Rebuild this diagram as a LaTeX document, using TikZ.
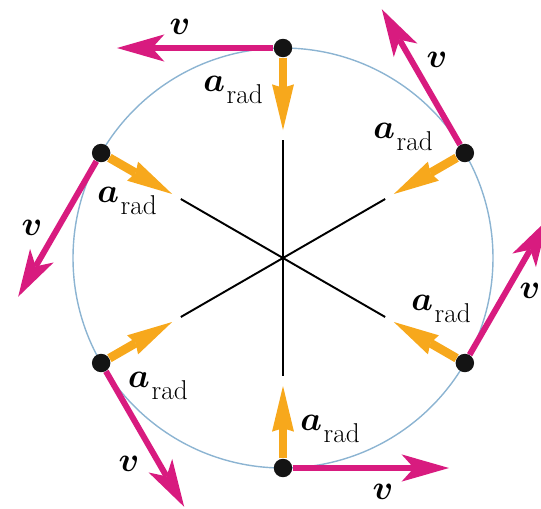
\RequirePackage{fix-cm}
\documentclass[tikz,border=0pt]{standalone}
\usepackage{amsmath,amssymb}
\usepackage{xcolor}
\usepackage{tikz}
\usetikzlibrary{arrows.meta,calc}
\definecolor{velmagenta}{HTML}{D81B7F}
\definecolor{accorange}{HTML}{F7A81C}
\definecolor{trackblue}{HTML}{8CB4D2}
\newcommand{\arad}{$\boldsymbol{a}$\kern1pt\raisebox{-7pt}{\fontsize{15.5}{17}\selectfont rad}}

\begin{document}
\begin{tikzpicture}[
  x=0.02cm,y=0.02cm,
  particle/.style={circle,fill=black!92,minimum size=10.5pt,inner sep=0pt},
  vel/.style={draw=velmagenta,line width=3.4pt,-{Stealth[length=27pt,width=15.5pt,inset=7pt,line width=0pt]}},
  acc/.style={draw=accorange,line width=5pt,-{Stealth[length=26pt,width=12.5pt,inset=2pt,line width=0pt]}},
  spoke/.style={draw=black,line width=1.1pt},
  track/.style={draw=trackblue,line width=0.8pt},
  lab/.style={inner sep=0pt,font=\fontsize{19.5}{22}\selectfont}
]
\clip (-283,-250) rectangle (258,258);
\coordinate (o) at (0,0);
\draw[track] (o) circle (210);

\coordinate (s90) at (90:118);
\coordinate (s150) at (150:118);
\coordinate (s210) at (210:118);
\coordinate (s270) at (270:118);
\coordinate (s330) at (330:118);
\coordinate (s30) at (30:118);
\draw[spoke] (s90)--(s270);
\draw[spoke] (s150)--(s330);
\draw[spoke] (s210)--(s30);

\node[particle] (m90) at (90:210) {};
\node[particle] (m150) at (150:210) {};
\node[particle] (m210) at (210:210) {};
\node[particle] (m270) at (270:210) {};
\node[particle] (m330) at (330:210) {};
\node[particle] (m30) at (30:210) {};

\coordinate (a90) at (90:128);
\coordinate (a150) at (150:128);
\coordinate (a210) at (210:128);
\coordinate (a270) at (270:128);
\coordinate (a330) at (330:128);
\coordinate (a30) at (30:128);
\draw[acc] (m90)--(a90);
\draw[acc] (m150)--(a150);
\draw[acc] (m210)--(a210);
\draw[acc] (m270)--(a270);
\draw[acc] (m330)--(a330);
\draw[acc] (m30)--(a30);

\coordinate (v90) at ($(m90)+(180:166)$);
\coordinate (v150) at ($(m150)+(240:166)$);
\coordinate (v210) at ($(m210)+(300:166)$);
\coordinate (v270) at ($(m270)+(0:166)$);
\coordinate (v330) at ($(m330)+(60:166)$);
\coordinate (v30) at ($(m30)+(120:166)$);
\draw[vel] (m90)--(v90);
\draw[vel] (m150)--(v150);
\draw[vel] (m210)--(v210);
\draw[vel] (m270)--(v270);
\draw[vel] (m330)--(v330);
\draw[vel] (m30)--(v30);

\node[lab] (la90) at (-50,168) {\arad};
\node[lab] (la150) at (-156,57) {\arad};
\node[lab] (la210) at (-125,-128) {\arad};
\node[lab] (la270) at (47,-171) {\arad};
\node[lab] (la330) at (158,-51) {\arad};
\node[lab] (la30) at (120,121) {\arad};

\node[lab] (lv90) at (-103,231) {$\boldsymbol{v}$};
\node[lab] (lv150) at (-251,30) {$\boldsymbol{v}$};
\node[lab] (lv210) at (-154,-206) {$\boldsymbol{v}$};
\node[lab] (lv270) at (100,-234) {$\boldsymbol{v}$};
\node[lab] (lv330) at (247,-33) {$\boldsymbol{v}$};
\node[lab] (lv30) at (154,198) {$\boldsymbol{v}$};
\end{tikzpicture}
\end{document}
